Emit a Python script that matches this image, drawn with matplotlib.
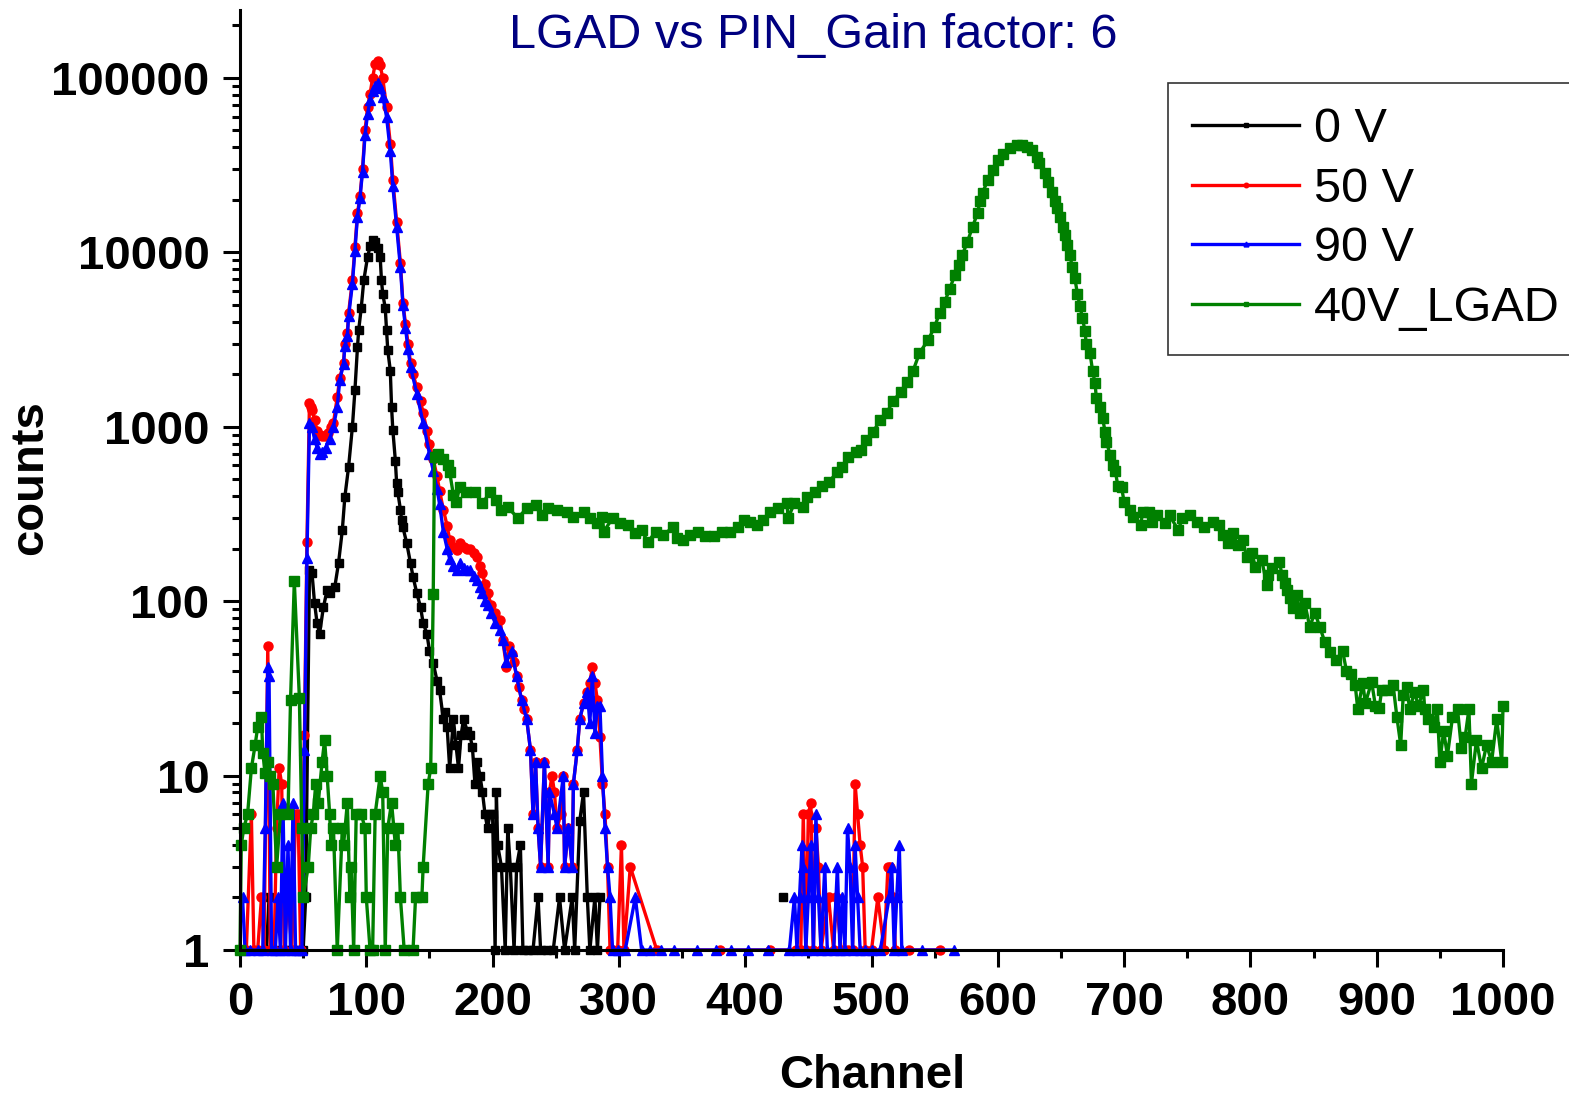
import numpy as np
import matplotlib
matplotlib.use("Agg")
import matplotlib.pyplot as plt
from matplotlib.ticker import LogLocator, FuncFormatter, MultipleLocator, NullFormatter

nan = np.nan

# 0 V
ch_0v = [21, 23, 25, 30, 35, 40, 45, 50, 52, 55, 57, 59, 61, 63, 66, 69, 71, 75, 78, 81, 83, 86, 89, 91,
         93, 94, 96, 98, 101, 103, 105, 107, 109, 111, 112, 113, 115, 116, 117, 119, 120, 121, 123, 124,
         125, 127, 128, 129, 132, 135, 137, 140, 143, 145, 148, 150, 153, 156, 158, 161, 162, 164, 166,
         169, 171, 173, 175, 177, 180, 182, 184, 186, 188, 190, 192, 194, 196, 198, 200, 202, 203, 204,
         207, 210, 212, 214, 217, 219, 222, 224, 228, 232, 236, 238, 243, 248, 253, 257, 263, 265, 269,
         272, 275, 277, 281, 283, 285, 300, 430]
cnt_0v = [1, 2, 1, 1, 1, 1, 1, 1, 2, 150, 145, 98, 75, 65, 92, 116, 111, 120, 165, 255, 395, 590, 1000, 1620,
          2850, 3600, 4800, 6900, 9400, 10800, 11800, 11500, 10600, 9400, 6900, 5800, 4800, 3600, 2750, 2100,
          1300, 960, 640, 475, 420, 335, 290, 265, 215, 165, 138, 111, 92, 75, 65, 52, 44, 35, 31, 21, 23, 19,
          11, 21, 15, 11, 17, 21, 18, 17, 14.6, 9, 12, 10, 8, 6, 5, 6, 6, 1, 8, 4, 3, 1, 5, 3, 1, 3, 4, 1, 1,
          1, 2, 1, 1, 1, 2, 1, 2, 1, 5.5, 8, 2, 1, 2, 1, 2, nan, 2]

# 50 V
ch_50v = [2, 5, 9, 11, 14, 17, 19, 22, 24, 27, 29, 31, 33, 35, 38, 41, 44, 46, 48, 51, 53, 55, 56, 57, 59,
          61, 63, 65, 67, 70, 72, 74, 77, 79, 82, 83, 85, 86, 89, 91, 93, 95, 97, 99, 101, 103, 105, 107, 109,
          111, 113, 116, 119, 121, 124, 127, 129, 131, 133, 135, 137, 140, 143, 145, 148, 150, 153, 156, 158,
          161, 164, 166, 169, 172, 174, 177, 180, 182, 185, 188, 190, 192, 194, 196, 199, 202, 206, 208, 211,
          213, 215, 217, 219, 221, 223, 225, 227, 230, 232, 234, 236, 238, 241, 244, 245, 247, 249, 251, 254,
          256, 257, 260, 263, 264, 267, 269, 272, 275, 277, 279, 281, 283, 285, 287, 289, 291, 293, 295, 299,
          302, 304, 309, 330, 380, 420, 440, 444, 446, 448, 450, 452, 454, 456, 458, 460, 466, 470, 472, 476,
          481, 485, 487, 489, 491, 493, 495, 500, 505, 510, 513, 515, 517, 519, 530, 554]
cnt_50v = [1, 1, 6, 1, 1, 2, 1, 55, 1, 1, 5, 11, 9, 1, 2, 1, 6, 6, 1, 17, 218, 1370, 1300, 1250, 1100,
           950, 900, 880, 890, 920, 1000, 1050, 1480, 1900, 2330, 3000, 3430, 4500, 6900, 10700, 16700, 21000,
           30000, 50000, 68000, 81000, 100000, 120000, 125000, 118000, 100000, 68000, 42000, 26000, 15000,
           8700, 5150, 3900, 3000, 2330, 2000, 1680, 1400, 1200, 950, 800, 650, 520, 430, 335, 270, 225, 205,
           197, 215, 205, 200, 200, 190, 180, 160, 145, 125, 111, 95, 85, 78, 60, 42, 55, 50, 45, 37, 32, 27,
           24, 21, 14, 6, 12, 5, 3, 12, 3, 8, 10, 8, 5, 6, 10, 3, 5, 3, 9, 14, 21, 26, 30, 34, 42, 34, 27, 16.6,
           9, 6, 3, 1, 1, 1, 4, 1, 3, 1, 1, 1, 1, 1, 6, 1, 6, 7, 1, 5, 3, 1, 2, 1, 2, 1, 1, 1, 9, 6, 4, 3, 1,
           1, 2, 1, 3, 3, 2, 1, 1, 1]

# 90 V
ch_90v = [2, 4, 8, 14, 18, 20, 22, 23, 25, 28, 30, 32, 34, 36, 38, 40, 42, 44, 47, 49, 51, 53, 55, 57, 59,
          61, 63, 65, 68, 71, 74, 77, 79, 82, 83, 85, 86, 89, 91, 93, 95, 97, 99, 101, 103, 105, 107, 109,
          111, 113, 116, 119, 121, 124, 127, 129, 131, 133, 135, 140, 145, 150, 153, 156, 158, 161, 164, 166,
          169, 172, 174, 177, 180, 182, 185, 188, 190, 192, 194, 196, 199, 202, 206, 208, 211, 215, 219, 223,
          227, 230, 232, 234, 236, 238, 241, 244, 245, 249, 251, 256, 257, 260, 263, 264, 267, 269, 272, 275,
          277, 279, 281, 283, 285, 287, 289, 291, 293, 295, 299, 305, 313, 318, 325, 333, 344, 362, 377, 389,
          402, 418, 435, 439, 441, 443, 445, 446, 448, 450, 452, 454, 456, 458, 460, 463, 465, 470, 473, 475,
          477, 479, 481, 483, 485, 487, 489, 491, 495, 500, 507, 514, 516, 518, 520, 522, 524, 540, 565]
cnt_90v = [2, 1, 1, 1, 1, 5, 42, 37, 1, 1, 2, 1, 7, 1, 4, 1, 7, 1, 1, 1, 14, 177, 1050, 1000, 850, 760, 700,
           720, 760, 850, 1000, 1300, 1850, 2300, 2900, 3300, 4300, 6600, 10200, 16000, 20500, 29000, 47000,
           62000, 75000, 84000, 90000, 93500, 88000, 78000, 60000, 38000, 24000, 14000, 8200, 5000, 3700, 2800,
           2200, 1550, 1050, 700, 560, 440, 360, 250, 200, 175, 160, 150, 165, 155, 150, 150, 140, 132, 120,
           111, 100, 95, 85, 75, 68, 60, 45, 52, 37, 27, 21, 14, 6, 12, 5, 3, 12, 3, 8, 6, 5, 10, 3, 5, 3, 9,
           14, 21, 26, 30, 20, 37, 17.5, 25, 25, 10, 5, 3, 2, 1, 1, 1, 2, 1, 1, 1, 1, 1, 1, 1, 1, 1, 1, 2, 1,
           2, 4, 3, 1, 2, 4, 1, 6, 2, 1, 3, 1, 1, 3, 1, 2, 1, 5, 3, 1, 4, 2, 1, 1, 1, 1, 2, 3, 1, 2, 4, 1, 1, 1]

# 40V_LGAD
ch_lgad = [0, 1, 3, 6, 9, 12, 14, 17, 18, 20, 22, 24, 26, 29, 32, 38, 40, 43, 47, 49, 50, 54, 56, 58, 60,
           62, 65, 67, 69, 71, 72, 74, 77, 81, 82, 85, 87, 88, 90, 92, 96, 99, 100, 103, 105, 107, 111, 113,
           115, 117, 120, 123, 125, 127, 130, 137, 139, 144, 145, 149, 151, 153, 154, 157, 161, 165, 166, 169,
           171, 174, 179, 186, 192, 198, 203, 207, 212, 220, 227, 234, 239, 244, 251, 259, 264, 272, 277, 283,
           287, 288, 295, 301, 307, 313, 318, 323, 329, 335, 343, 346, 351, 356, 363, 368, 375, 382, 388, 394,
           399, 404, 409, 414, 420, 426, 433, 434, 439, 446, 449, 455, 461, 466, 473, 477, 481, 488, 492, 496,
           501, 507, 512, 517, 523, 528, 533, 538, 545, 550, 554, 558, 562, 566, 569, 572, 576, 580, 584, 586,
           588, 592, 596, 600, 604, 610, 615, 619, 623, 627, 631, 633, 637, 640, 643, 645, 647, 649, 652, 653,
           655, 657, 659, 661, 663, 665, 667, 669, 670, 673, 675, 677, 678, 681, 683, 685, 686, 689, 691, 693,
           695, 698, 700, 705, 707, 713, 715, 720, 722, 726, 732, 736, 743, 746, 752, 758, 763, 770, 775, 778,
           782, 786, 790, 794, 797, 801, 804, 809, 813, 814, 817, 823, 825, 827, 829, 831, 834, 837, 839, 843,
           847, 851, 855, 859, 863, 868, 873, 876, 880, 883, 885, 889, 891, 896, 899, 902, 904, 908, 913, 916,
           919, 921, 924, 926, 930, 933, 937, 938, 941, 945, 948, 950, 953, 956, 960, 964, 967, 970, 973, 975,
           979, 983, 987, 991, 995, 999, 1000]
cnt_lgad = [1, 4, 5, 6, 11, 15, 19, 21.7, 13.5, 10.3, 12, 10, 9, 3, 6, 6, 27, 130, 28, 5, 2, 3, 5, 6, 9, 7,
            12, 16, 10, 6, 4, 5, 1, 5, 4, 7, 2, 3, 1, 6, 6, 5, 2, 1, 1, 6, 10, 8, 1, 5, 7, 4, 5, 2, 1, 1, 2, 2,
            3, 9, 11, 110, 673, 700, 650, 600, 550, 405, 370, 450, 420, 420, 365, 420, 380, 335, 345, 300, 340,
            355, 310, 340, 335, 325, 305, 325, 300, 280, 305, 250, 300, 280, 275, 245, 255, 218, 250, 240, 265,
            230, 225, 240, 250, 235, 235, 250, 250, 265, 290, 285, 275, 290, 325, 340, 365, 300, 365, 345, 395,
            420, 460, 480, 550, 590, 670, 720, 740, 840, 930, 1090, 1200, 1400, 1580, 1800, 2100, 2650, 3150,
            3750, 4500, 5200, 6200, 7400, 8500, 9700, 11500, 14000, 16800, 19800, 22000, 25900, 29500, 33800,
            36800, 39400, 41000, 41500, 40000, 38500, 35000, 32500, 28500, 25200, 22200, 19800, 17900, 16000,
            14000, 12500, 11000, 9700, 8200, 7100, 5800, 4950, 4200, 3550, 3000, 2650, 2100, 1780, 1460, 1300,
            1120, 930, 820, 690, 600, 560, 460, 450, 370, 335, 305, 275, 325, 325, 285, 310, 280, 310, 255, 300,
            310, 285, 265, 285, 275, 240, 215, 245, 210, 225, 180, 190, 157, 172, 124, 141, 155, 168, 141, 127,
            116, 104, 91, 108, 86, 98, 71, 86, 71, 58, 51, 46, 52, 40, 38, 33, 24, 34, 26, 34.5, 25, 24.5, 31,
            31, 33, 21.6, 15, 29, 32, 24, 30, 25, 31, 24, 21, 19, 24, 12, 18, 13, 21.6, 24, 14.4, 16.6, 24, 9,
            16, 11, 15, 12, 21, 12, 25]

plt.rcParams['font.family'] = ['Liberation Sans', 'DejaVu Sans']
plt.rcParams['font.weight'] = 'bold'

fig = plt.figure(figsize=(15.69, 10.99), dpi=100)
ax = fig.add_axes([240/1569, 1 - 950/1099, 1263/1569, 940/1099])

ax.plot(ch_0v, cnt_0v, color='black', marker='s', ms=6, lw=2.4, label='0 V', clip_on=False)
ax.plot(ch_50v, cnt_50v, color='red', marker='o', ms=6.5, lw=2.4, label='50 V', clip_on=False)
ax.plot(ch_90v, cnt_90v, color='blue', marker='^', ms=7, lw=2.4, label='90 V', clip_on=False)
ax.plot(ch_lgad, cnt_lgad, color='green', marker='s', ms=6.5, lw=2.4, label='40V_LGAD', clip_on=False)

ax.set_yscale('log')
ax.set_xlim(0, 1000)
ax.set_ylim(1, 245000)
ax.yaxis.set_major_locator(LogLocator(base=10, numticks=10))
ax.yaxis.set_minor_locator(LogLocator(base=10, subs=range(2, 10), numticks=20))
ax.yaxis.set_major_formatter(FuncFormatter(lambda v, p: f"{int(round(v))}"))
ax.yaxis.set_minor_formatter(NullFormatter())
ax.xaxis.set_major_locator(MultipleLocator(100))
ax.xaxis.set_minor_locator(MultipleLocator(50))

ax.tick_params(which='major', length=12, width=2.2, labelsize=34, direction='out')
ax.tick_params(which='minor', length=6, width=2.2, direction='out')
ax.tick_params(axis='y', pad=10)
ax.tick_params(axis='x', pad=10)
for s in ['top', 'right']:
    ax.spines[s].set_visible(False)
for s in ['left', 'bottom']:
    ax.spines[s].set_linewidth(2.2)

fig.text(872/1569, 1 - 1076/1099, "Channel", ha='center', va='center', fontsize=34, fontweight='bold')
fig.text(30/1569, 1 - 478/1099, "counts", ha='center', va='center', rotation=90, fontsize=34, fontweight='bold')
fig.text(813/1569, 1 - 35/1099, "LGAD vs PIN_Gain factor: 6", ha='center', va='center',
         color='#000080', fontsize=35, fontweight='normal')

leg = ax.legend(loc='upper left', bbox_to_anchor=(1168/1569, 1 - 83/1099), bbox_transform=fig.transFigure,
                prop={'size': 35, 'weight': 'normal'}, frameon=True, fancybox=False, borderaxespad=0,
                handlelength=2.2, handletextpad=0.3, borderpad=0.5, labelspacing=0.3, markerscale=0.5)
leg.get_frame().set_edgecolor('black')
leg.get_frame().set_linewidth(1.2)

fig.savefig('out.png', dpi=100)
